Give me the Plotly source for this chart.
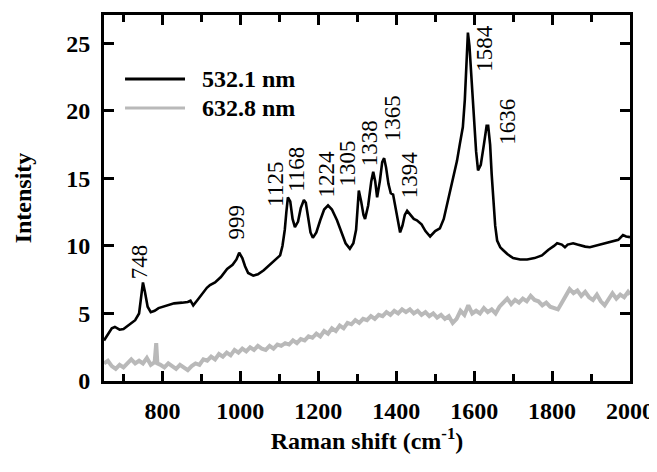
import plotly.graph_objects as go

# ---- data ----
series_names = ["532.1 nm", "632.8 nm"]

black_x = [650, 660, 670, 678, 690, 700, 715, 730, 740, 745, 750, 755, 762, 770, 780, 790, 800, 815, 830, 850,
           865, 872, 879, 890, 900, 914, 922, 935, 950, 966, 980, 990, 997, 1005, 1012, 1020, 1033, 1045, 1060, 1075,
           1090, 1102, 1108, 1114, 1118, 1122, 1128, 1134, 1140, 1148, 1155, 1163, 1168, 1174, 1180, 1186, 1195, 1205,
           1215, 1225, 1235, 1248, 1260, 1270, 1281, 1290, 1297, 1304, 1310, 1316, 1320, 1328, 1336, 1341, 1346, 1351,
           1358, 1364, 1369, 1374, 1380, 1386, 1392, 1398, 1405, 1410, 1416, 1422, 1428, 1436, 1445, 1453, 1465, 1475,
           1487, 1500, 1512, 1522, 1533, 1545, 1556, 1563, 1571, 1576, 1580, 1584, 1588, 1592, 1595, 1600, 1605, 1610,
           1617, 1625, 1632, 1636, 1641, 1645, 1649, 1654, 1659, 1667, 1674, 1685, 1700, 1718, 1736, 1755, 1774, 1790,
           1805, 1813, 1825, 1833, 1840, 1854, 1865, 1875, 1885, 1897, 1910, 1925, 1941, 1955, 1970, 1982, 1990, 2000]
black_y = [3.0, 3.5, 3.9, 4.0, 3.8, 3.85, 4.2, 4.5, 5.0, 6.2, 7.3, 6.6, 5.5, 5.1, 5.2, 5.4, 5.5, 5.6, 5.75, 5.8,
           5.85, 5.95, 5.6, 6.0, 6.4, 6.9, 7.1, 7.3, 7.7, 8.3, 8.6, 9.0, 9.5, 9.1, 8.5, 8.0, 7.8, 7.9, 8.2, 8.6,
           9.0, 9.3, 10.0, 11.2, 12.5, 13.6, 13.3, 12.0, 11.4, 11.8, 12.8, 13.4, 13.2, 12.0, 11.0, 10.6, 11.0, 11.9,
           12.7, 13.0, 12.7, 11.9, 11.0, 10.2, 9.8, 10.2, 11.2, 14.1, 13.3, 12.3, 12.0, 13.0, 14.8, 15.5, 14.8, 13.6,
           14.8, 16.2, 16.5, 15.8, 14.6, 13.9, 13.8, 12.8, 11.6, 11.0, 11.5, 12.3, 12.6, 12.3, 12.0, 11.9, 11.6, 11.1,
           10.7, 11.1, 11.3, 12.0, 13.4, 14.8, 16.3, 17.5, 18.8, 20.8, 24.0, 25.8, 24.8, 23.0, 22.0, 19.0, 17.0, 15.6,
           16.0, 17.5, 18.9, 18.9, 17.5, 15.3, 13.4, 11.5, 10.4, 9.9, 9.7, 9.4, 9.1, 9.0, 9.0, 9.1, 9.3, 9.7,
           10.0, 10.2, 10.1, 9.9, 10.1, 10.2, 10.1, 10.0, 9.95, 9.9, 10.0, 10.1, 10.2, 10.3, 10.45, 10.8, 10.7, 10.65]

grey_x = [650, 660, 670, 680, 690, 700, 710, 720, 730, 740, 750, 760, 770, 780, 784, 787, 795, 805, 815, 825,
          835, 845, 855, 865, 875, 885, 895, 905, 915, 925, 935, 945, 955, 965, 975, 985, 995, 1005, 1015, 1025,
          1035, 1045, 1055, 1065, 1075, 1085, 1095, 1105, 1115, 1125, 1135, 1145, 1155, 1165, 1175, 1185, 1195, 1205,
          1215, 1225, 1235, 1245, 1255, 1265, 1275, 1285, 1295, 1305, 1315, 1325, 1335, 1345, 1355, 1365, 1375, 1385,
          1395, 1405, 1415, 1425, 1435, 1445, 1455, 1465, 1475, 1485, 1495, 1505, 1515, 1525, 1535, 1545, 1555, 1565,
          1575, 1585, 1595, 1605, 1615, 1625, 1635, 1645, 1655, 1665, 1675, 1685, 1695, 1705, 1715, 1725, 1735, 1745,
          1755, 1765, 1775, 1785, 1795, 1805, 1815, 1825, 1835, 1845, 1855, 1865, 1875, 1885, 1895, 1905, 1915, 1925,
          1935, 1945, 1955, 1965, 1975, 1985, 1995, 2000]
grey_y = [1.3, 1.5, 1.1, 0.9, 1.2, 1.0, 1.3, 1.6, 1.3, 1.5, 1.3, 1.7, 1.2, 1.4, 2.8, 1.3, 1.2, 1.0, 1.3, 1.1,
          0.9, 1.2, 1.0, 0.8, 1.1, 1.3, 1.2, 1.6, 1.5, 1.8, 1.6, 2.0, 1.8, 2.1, 1.9, 2.3, 2.1, 2.4, 2.2, 2.5,
          2.3, 2.6, 2.4, 2.3, 2.6, 2.4, 2.7, 2.6, 2.8, 2.7, 3.0, 2.8, 3.1, 3.0, 3.3, 3.2, 3.5, 3.3,
          3.7, 3.5, 3.9, 3.7, 4.1, 3.9, 4.3, 4.2, 4.5, 4.3, 4.6, 4.5, 4.8, 4.6, 4.9, 4.8, 5.1, 4.9,
          5.2, 5.0, 5.3, 5.1, 5.3, 5.0, 5.2, 4.9, 5.1, 4.8, 5.0, 4.7, 4.9, 4.6, 4.8, 4.3, 4.6, 5.2,
          4.9, 5.6, 5.0, 5.2, 5.0, 5.4, 5.1, 5.3, 5.0, 5.5, 5.8, 6.1, 5.7, 6.0, 5.8, 6.1, 5.9, 6.3,
          6.0, 5.9, 5.6, 5.8, 5.5, 5.4, 5.3, 5.8, 6.3, 6.8, 6.5, 6.7, 6.3, 6.6, 6.2, 6.0, 6.4, 5.9,
          5.6, 6.0, 6.5, 6.1, 6.4, 6.2, 6.6, 6.4]

peak_labels = ["748", "999", "1125", "1168", "1224", "1305", "1338", "1365", "1394", "1584", "1636"]
label_x = [740, 991, 1091, 1145, 1220, 1276, 1330, 1389, 1435, 1628, 1687]
label_y = [8.8, 11.8, 14.6, 15.7, 15.3, 16.1, 17.6, 19.45, 15.3, 24.6, 19.2]

x_tick_vals = [800, 1000, 1200, 1400, 1600, 1800, 2000]
y_tick_vals = [0, 5, 10, 15, 20, 25]
x_range = [650, 2000]
y_range = [0, 27.1]

FONT = "Liberation Serif"
BLACK = "#000000"
GREY = "#b9b9b9"

fig = go.Figure()
fig.add_trace(go.Scatter(x=grey_x, y=grey_y, mode="lines", name=series_names[1],
                         line=dict(color=GREY, width=4), showlegend=False))
fig.add_trace(go.Scatter(x=black_x, y=black_y, mode="lines", name=series_names[0],
                         line=dict(color=BLACK, width=2.6), showlegend=False))

for t, x, y in zip(peak_labels, label_x, label_y):
    fig.add_annotation(x=x, y=y, text=t, showarrow=False, textangle=-90,
                       font=dict(family=FONT, size=23, color="black"))

legend_y = [0.825, 0.746]
for name, col, ly in zip(series_names, [BLACK, GREY], legend_y):
    fig.add_shape(type="line", xref="paper", yref="paper", x0=0.040, x1=0.154, y0=ly, y1=ly,
                  line=dict(color=col, width=3))
    fig.add_annotation(xref="paper", yref="paper", x=0.182, y=ly, text="<b>%s</b>" % name, showarrow=False,
                       xanchor="left", yanchor="middle",
                       font=dict(family=FONT, size=24, color="black"))

fig.update_xaxes(range=x_range, tickvals=x_tick_vals, ticktext=["<b>%d</b>" % v for v in x_tick_vals],
                 showline=True, linecolor="black", linewidth=3, mirror="ticks",
                 ticks="inside", ticklen=10, tickcolor="black", tickwidth=2.5,
                 minor=dict(dtick=100, tick0=0, ticks="inside", ticklen=7, tickcolor="black", tickwidth=2.5,
                            showgrid=False),
                 showgrid=False, zeroline=False, automargin=False,
                 ticklabelstandoff=6,
                 tickfont=dict(family=FONT, size=24, color="black"),
                 title=dict(text="<b>Raman shift (cm<sup>-1</sup>)</b>", standoff=6,
                            font=dict(family=FONT, size=24, color="black")))
fig.update_yaxes(range=y_range, tickvals=y_tick_vals, ticktext=["<b>%d</b>" % v for v in y_tick_vals],
                 showline=True, linecolor="black", linewidth=3, mirror="ticks",
                 ticks="inside", ticklen=10, tickcolor="black", tickwidth=2.5,
                 showgrid=False, zeroline=False, automargin=False,
                 ticklabelstandoff=6,
                 tickfont=dict(family=FONT, size=24, color="black"),
                 title=dict(text="<b>Intensity</b>", standoff=28,
                            font=dict(family=FONT, size=24, color="black")))

# the page body adds an 8px offset, so the figure is sized to fill the rest of the 657x472 window
fig.update_layout(width=649, height=464, margin=dict(l=96, r=27, t=7, b=91),
                  plot_bgcolor="white", paper_bgcolor="white", showlegend=False)

fig.write_html("out.html")
